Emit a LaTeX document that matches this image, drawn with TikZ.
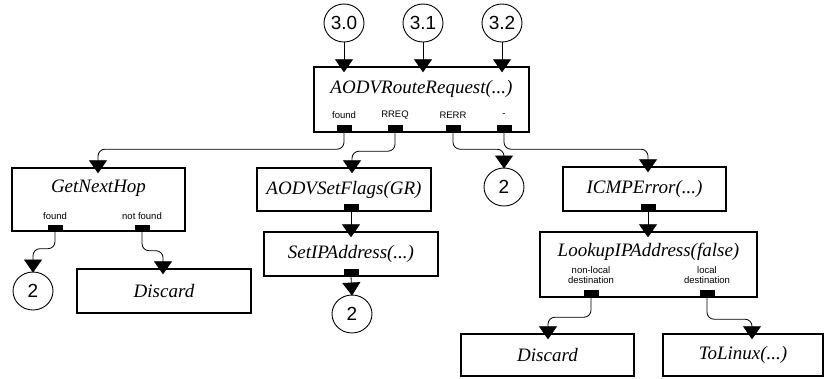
\documentclass[tikz,border=0pt]{standalone}
\usepackage{fontspec}
\setmainfont{Liberation Serif}
\newfontfamily\arialfont{Liberation Sans}
\usetikzlibrary{arrows.meta,calc,shapes.geometric}
\tikzset{
  box/.style={draw, line width=1.4pt, fill=white, inner sep=0pt},
  title/.style={font=\itshape\fontsize{19}{21}\selectfont, inner sep=0pt},
  plabel/.style={font=\arialfont\fontsize{9.5}{10.5}\selectfont, inner sep=0pt, align=center},
  port/.style={fill=black, minimum width=15pt, minimum height=7pt, inner sep=0pt},
  jump/.style={draw, ellipse, line width=0.9pt, minimum width=40pt, minimum height=38pt, inner sep=0pt,
    font=\arialfont\fontsize{19}{20}\selectfont},
  conn/.style={line width=0.8pt, rounded corners=7pt, -{Triangle[width=18pt,length=13pt]}},
}
\begin{document}
\begin{tikzpicture}[x=1pt,y=-1pt]
\useasboundingbox (0,0) rectangle (828,378);

% entry points
\node[jump] (c30) at (344,23) {3.0};
\node[jump] (c31) at (423,23) {3.1};
\node[jump] (c32) at (502,23) {3.2};

% AODVRouteRequest with its four outputs
\node[box, minimum width=215pt, minimum height=65pt] (arr) at (421.5,99.5) {};
\node[title] (arrT) at (421.5,89) {AODVRouteRequest(...)};
\node[plabel] (arrL1) at (344,115) {found};
\node[plabel] (arrL2) at (395,115) {RREQ};
\node[plabel] (arrL3) at (453,115) {RERR};
\node[plabel] (arrL4) at (504,115) {-};
\node[port] (arrP1) at (344,128.5) {};
\node[port] (arrP2) at (395,128.5) {};
\node[port] (arrP3) at (453,128.5) {};
\node[port] (arrP4) at (504,128.5) {};

% GetNextHop branch
\node[box, minimum width=173pt, minimum height=63pt] (gnh) at (98.5,199.5) {};
\node[title] (gnhT) at (98.5,188) {GetNextHop};
\node[plabel] (gnhL1) at (55,216) {found};
\node[plabel] (gnhL2) at (142,216) {not found};
\node[port] (gnhP1) at (55,228) {};
\node[port] (gnhP2) at (142,228) {};
\node[jump] (j2a) at (33,291) {2};
\node[box, minimum width=174pt, minimum height=44pt, title] (dis1) at (164,291) {Discard};

% RREQ branch
\node[box, minimum width=174pt, minimum height=43pt, title] (sfl) at (344,189.5) {AODVSetFlags(GR)};
\node[port] (sflP) at (351,207.5) {};
\node[box, minimum width=174pt, minimum height=44pt, title] (sip) at (351,254) {SetIPAddress(...)};
\node[port] (sipP) at (351,272.5) {};
\node[jump] (j2c) at (352,314) {2};

% RERR branch
\node[jump] (j2b) at (504,187) {2};

% error branch
\node[box, minimum width=163pt, minimum height=44pt, title] (icmp) at (644.5,189) {ICMPError(...)};
\node[port] (icmpP) at (648,207.5) {};
\node[box, minimum width=217pt, minimum height=65pt] (lip) at (648.5,264.5) {};
\node[title] (lipT) at (648.5,252) {LookupIPAddress(false)};
\node[plabel] (lipL1) at (591,275) {non-local\\destination};
\node[plabel] (lipL2) at (707,275) {local\\destination};
\node[port] (lipP1) at (591,293.5) {};
\node[port] (lipP2) at (707,293.5) {};
\node[box, minimum width=173pt, minimum height=42pt, title] (dis2) at (547.5,355) {Discard};
\node[box, minimum width=160pt, minimum height=42pt, title] (tol) at (743,355) {ToLinux(...)};

% connectors
\draw[conn] (c30.south) -- ($(arr.north -| c30)+(0,6)$);
\draw[conn] (c31.south) -- ($(arr.north -| c31)+(0,6)$);
\draw[conn] (c32.south) -- ($(arr.north -| c32)+(0,6)$);

\draw[conn] (arrP1.south) -- ++(0,17) -| ($(gnh.north -| 98,0)+(0,6)$);
\draw[conn] (arrP2.south) -- ++(0,19) -| ($(sfl.north -| 352,0)+(0,6)$);
\draw[conn] (arrP3.south) -- ++(0,17) -| ($(j2b.north)+(0,1)$);
\draw[conn] (arrP4.south) -- ++(0,17) -| ($(icmp.north -| 648,0)+(0,6)$);

\draw[conn] (gnhP1.south) -- ++(0,17) -| ($(j2a.north)+(0,1)$);
\draw[conn] (gnhP2.south) -- ++(0,19) -| ($(dis1.north -| 163,0)+(0,6)$);

\draw[conn] (sflP.south) -- ($(sip.north -| sflP)+(0,6)$);
\draw[conn] (sipP.south) -- ($(j2c.north)+(0,1)$);

\draw[conn] (icmpP.south) -- ($(lip.north -| icmpP)+(0,6)$);
\draw[conn] (lipP1.south) -- ++(0,20) -| ($(dis2.north -| 548,0)+(0,6)$);
\draw[conn] (lipP2.south) -- ++(0,22) -| ($(tol.north -| 752,0)+(0,6)$);
\end{tikzpicture}
\end{document}
